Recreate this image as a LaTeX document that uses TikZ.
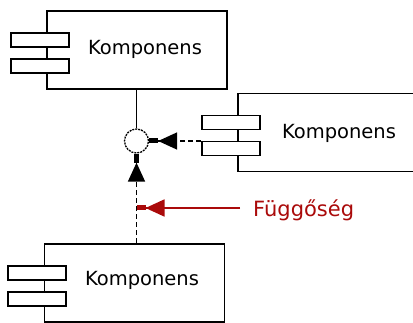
\documentclass[tikz,border=0pt]{standalone}
\usepackage{fontspec}
\setmainfont{DejaVu Sans}
\usetikzlibrary{arrows.meta,positioning}

\definecolor{depred}{RGB}{170,10,10}

\begin{document}
\begin{tikzpicture}[
  x=1pt, y=-1pt,
  komp/.style={draw, line width=1.8pt, minimum width=180pt, minimum height=78pt, inner sep=0pt},
  tab/.style={draw, fill=white, line width=1.8pt, minimum width=58pt, minimum height=14pt, inner sep=0pt},
  komptext/.style={font=\fontsize{19.5}{22}\selectfont, inner sep=0pt},
  iface/.style={draw, circle, fill=white, line width=1.3pt, dash pattern=on 2pt off 1pt, minimum size=24pt, inner sep=0pt},
  bell/.style={-{Triangle[length=19pt,width=17pt]Rectangle[length=9pt,width=5pt]}},
  dep/.style={line width=1.6pt, dash pattern=on 5pt off 3pt, bell}]
\useasboundingbox (0,0) rectangle (413,323);

% the three components
\node[komp] (k1) at (137,50) {};
\node[komp] (k2) at (328,132.5) {};
\node[komp] (k3) at (134.5,283) {};
\foreach \k in {k1,k2,k3} {
  \node[tab] (\k-a) at ([xshift=-6.5pt,yshift=10pt]\k.west) {};
  \node[tab] (\k-b) at ([xshift=-6.5pt,yshift=-16pt]\k.west) {};
}
\node[komptext] (n1) at (145,49) {Komponens};
\node[komptext] (n2) at (339,133) {Komponens};
\node[komptext] (n3) at (142,280) {Komponens};

% interface with its dependencies
\node[iface] (i) at (136.5,141) {};
\draw[line width=1.6pt] (k1.south -| i) -- (i);
\draw[dep] (i -| k2-b.west) -- (i);
\draw[dep] (i |- k3.north) -- (i);

% label
\node[komptext, font=\fontsize{21}{24}\selectfont, text=depred, anchor=west] (lbl) at (253,210) {Függőség};
\draw[depred, line width=1.6pt, bell] ([xshift=-13pt,yshift=2pt]lbl.west) -- ([yshift=2pt]lbl.west -| i);
\end{tikzpicture}
\end{document}
